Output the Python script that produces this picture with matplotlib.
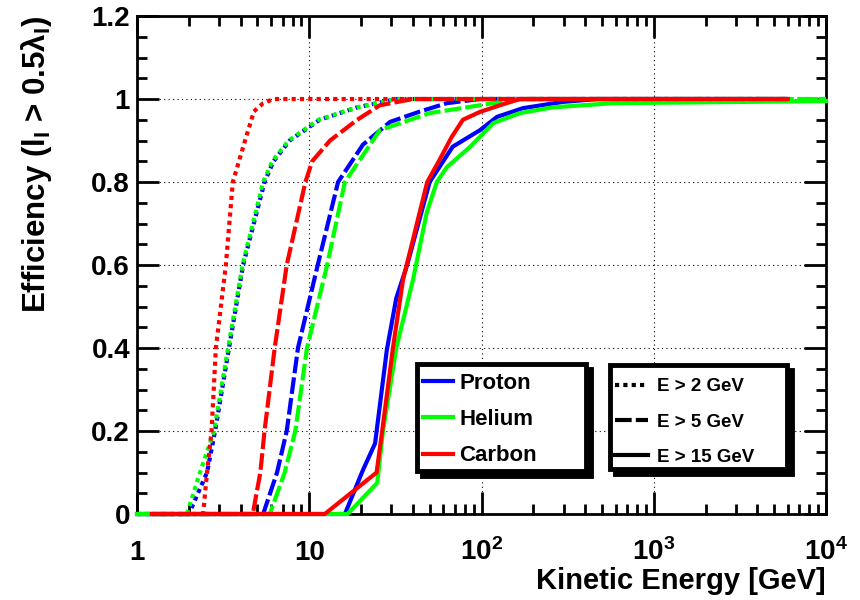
import matplotlib
matplotlib.use('Agg')
import matplotlib.pyplot as plt
from matplotlib.lines import Line2D
from matplotlib.patches import Rectangle
from matplotlib.ticker import LogLocator, MultipleLocator, NullFormatter

plt.rcParams['font.family'] = ['Liberation Sans', 'DejaVu Sans']
plt.rcParams['font.weight'] = 'bold'
plt.rcParams['axes.labelweight'] = 'bold'
plt.rcParams['mathtext.fontset'] = 'custom'
plt.rcParams['mathtext.rm'] = 'Liberation Sans:bold'
plt.rcParams['mathtext.it'] = 'Liberation Sans:bold'
plt.rcParams['mathtext.bf'] = 'Liberation Sans:bold'
plt.rcParams['mathtext.default'] = 'bf'

# efficiency curves: kinetic energy [GeV] / efficiency
proton_2_e = [1, 2.0, 2.55, 2.84, 3.42, 4.13, 5.5, 6.2, 7.7, 11.5, 19, 32, 6000]
proton_2_eff = [0, 0, 0.1, 0.2, 0.4, 0.6, 0.8, 0.85, 0.9, 0.95, 0.98, 1.0, 1.0]
helium_2_e = [1, 1.95, 2.32, 2.8, 3.38, 4.1, 5.4, 6.1, 7.6, 11.3, 19, 32, 10000]
helium_2_eff = [0, 0, 0.1, 0.2, 0.4, 0.6, 0.8, 0.85, 0.9, 0.95, 0.98, 1.0, 1.0]
carbon_2_e = [1.22, 2.42, 2.55, 2.71, 2.87, 3.28, 3.6, 4.24, 4.77, 5.4, 6.2, 6000]
carbon_2_eff = [0, 0, 0.1, 0.2, 0.4, 0.6, 0.8, 0.9, 0.97, 0.99, 1.0, 1.0]

proton_5_e = [1, 5.4, 6.5, 7.4, 8.6, 11.2, 14.7, 20.5, 29.5, 44, 63, 98, 6000]
proton_5_eff = [0, 0, 0.1, 0.2, 0.4, 0.6, 0.8, 0.89, 0.945, 0.97, 0.99, 1.0, 1.0]
helium_5_e = [1, 5.9, 7.2, 8.3, 9.7, 12.7, 16.1, 25.7, 50, 98, 167, 10000]
helium_5_eff = [0, 0, 0.1, 0.2, 0.4, 0.6, 0.8, 0.925, 0.966, 0.985, 1.0, 1.0]
carbon_5_e = [1.22, 4.7, 5.2, 5.5, 6.3, 7.4, 9.5, 10.4, 13.2, 19, 25.7, 40, 6000]
carbon_5_eff = [0, 0, 0.1, 0.2, 0.4, 0.6, 0.8, 0.85, 0.9, 0.95, 0.985, 1.0, 1.0]

proton_15_e = [1, 16.1, 20.5, 24.1, 28.2, 32, 37, 50, 68, 98, 123, 174, 296, 470, 6000]
proton_15_eff = [0, 0, 0.106, 0.17, 0.395, 0.52, 0.6, 0.8, 0.885, 0.925, 0.957, 0.978, 0.993, 1.0, 1.0]
helium_15_e = [1, 16.7, 24.8, 26.8, 32, 40, 48, 55, 63, 86, 117, 167, 260, 580, 10000]
helium_15_eff = [0, 0, 0.075, 0.2, 0.4, 0.564, 0.725, 0.8, 0.836, 0.885, 0.942, 0.966, 0.98, 0.99, 0.995]
carbon_15_e = [1.22, 12.3, 24.6, 26.5, 30.6, 35, 48.4, 57, 67, 78, 98, 128, 167, 6000]
carbon_15_eff = [0, 0, 0.1, 0.2, 0.4, 0.564, 0.8, 0.853, 0.908, 0.95, 0.969, 0.985, 1.0, 1.0]

x_ticks = [1, 10, 100, 1000, 10000]
x_labels = ['1', '10', '10$^{2}$', '10$^{3}$', '10$^{4}$']
y_ticks = [0, 0.2, 0.4, 0.6, 0.8, 1.0, 1.2]
y_labels = ['0', '0.2', '0.4', '0.6', '0.8', '1', '1.2']

species = ['Proton', 'Helium', 'Carbon']
cuts = ['E > 2 GeV', 'E > 5 GeV', 'E > 15 GeV']

colors = {'Proton': '#0000ff', 'Helium': '#00ff00', 'Carbon': '#ff0000'}
styles = {'E > 2 GeV': (0, (1, 1)), 'E > 5 GeV': (0, (4, 1)), 'E > 15 GeV': '-'}

curves = [
    ('Proton', 'E > 2 GeV', proton_2_e, proton_2_eff),
    ('Proton', 'E > 5 GeV', proton_5_e, proton_5_eff),
    ('Proton', 'E > 15 GeV', proton_15_e, proton_15_eff),
    ('Helium', 'E > 2 GeV', helium_2_e, helium_2_eff),
    ('Helium', 'E > 5 GeV', helium_5_e, helium_5_eff),
    ('Helium', 'E > 15 GeV', helium_15_e, helium_15_eff),
    ('Carbon', 'E > 2 GeV', carbon_2_e, carbon_2_eff),
    ('Carbon', 'E > 5 GeV', carbon_5_e, carbon_5_eff),
    ('Carbon', 'E > 15 GeV', carbon_15_e, carbon_15_eff),
]

fig = plt.figure(figsize=(8.6, 6), dpi=100)
ax = fig.add_axes([0.1593, 0.1433, 0.8012, 0.83])

for sp, cut, e, eff in curves:
    ax.plot(e, eff, color=colors[sp], linestyle=styles[cut], linewidth=3,
            zorder=3, clip_on=False)

ax.set_xscale('log')
ax.set_xlim(1, 10000)
ax.set_ylim(0, 1.2)
ax.set_xticks(x_ticks, x_labels)
ax.set_yticks(y_ticks, y_labels)
ax.xaxis.set_minor_locator(LogLocator(base=10, subs=range(2, 10)))
ax.xaxis.set_minor_formatter(NullFormatter())
ax.yaxis.set_minor_locator(MultipleLocator(0.05))

ax.tick_params(which='both', direction='in', top=True, right=True, width=2)
ax.tick_params(which='major', length=16, labelsize=20)
ax.tick_params(which='minor', length=7)
ax.tick_params(axis='x', which='major', pad=33)
ax.tick_params(axis='y', which='major', pad=5)
for lab in ax.get_xticklabels():
    lab.set_verticalalignment('baseline')

for s in ax.spines.values():
    s.set_linewidth(2)
    s.set_zorder(2.6)

ax.grid(True, which='major', color='black', linestyle=(0, (1, 3)), linewidth=0.8)

ax.set_xlabel('Kinetic Energy [GeV]', fontsize=21, fontweight='bold', loc='right')
ax.xaxis.set_label_coords(1.0, -0.106)
ax.set_ylabel(r'Efficiency (l$_{I}$ > 0.5$\lambda_{I}$)', fontsize=22.5,
              fontweight='bold', loc='top')
ax.yaxis.set_label_coords(-0.121, 1.0)

# legend boxes with ROOT style shadow
boxes = [(0.407, 0.0873, 0.244, 0.213), (0.686, 0.0894, 0.258, 0.209)]
for x0, y0, w, h in boxes:
    ax.add_patch(Rectangle((x0 + 0.0073, y0 - 0.010), w, h, transform=ax.transAxes,
                           facecolor='black', edgecolor='black', linewidth=3.5,
                           zorder=5, clip_on=False))
    ax.add_patch(Rectangle((x0, y0), w, h, transform=ax.transAxes,
                           facecolor='white', edgecolor='black', linewidth=3.5,
                           zorder=6, clip_on=False))

h_species = [Line2D([], [], color=colors[sp], linewidth=3) for sp in species]
leg1 = ax.legend(h_species, species, loc='upper left', bbox_to_anchor=(0.415, 0.283),
                 frameon=False, fontsize=16, handlelength=1.35, handletextpad=0.3,
                 labelspacing=0.68, borderpad=0, borderaxespad=0)
leg1.set_zorder(7)
ax.add_artist(leg1)

h_cuts = [Line2D([], [], color='black', linestyle=styles[c], linewidth=3) for c in cuts]
leg2 = ax.legend(h_cuts, cuts, loc='upper left', bbox_to_anchor=(0.694, 0.273),
                 frameon=False, fontsize=13.5, handlelength=1.76, handletextpad=0.48,
                 labelspacing=0.97, borderpad=0, borderaxespad=0)
leg2.set_zorder(7)

fig.savefig('out.png', dpi=100)
